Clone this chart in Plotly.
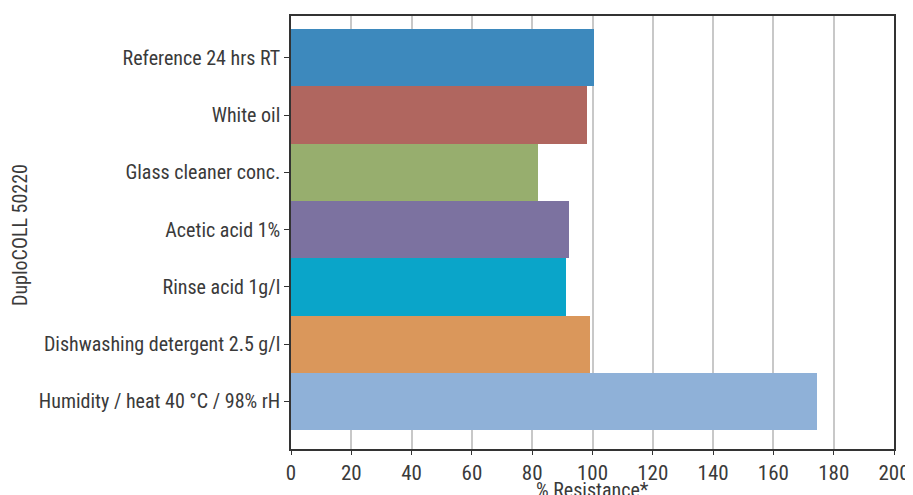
import plotly.graph_objects as go

categories = [
    "Reference 24 hrs RT",
    "White oil",
    "Glass cleaner conc.",
    "Acetic acid 1%",
    "Rinse acid 1g/l",
    "Dishwashing detergent 2.5 g/l",
    "Humidity / heat 40 °C / 98% rH",
]
values = [100.4, 98.1, 82.0, 92.2, 91.2, 99.2, 174.4]
colors = ["#3d89bd", "#b0665f", "#97ae6e", "#7c72a0", "#0aa5c9", "#da975b", "#8fb1d8"]
x_ticks = [0, 20, 40, 60, 80, 100, 120, 140, 160, 180, 200]

FONT = "Roboto Condensed, Liberation Sans Narrow, Arial Narrow, Roboto, sans-serif"
TXT = "#3a3a3a"

fig = go.Figure(go.Bar(
    x=values, y=categories, orientation="h",
    marker=dict(color=colors, line=dict(width=0)),
    width=1.0,
))

# page has an 8px body margin; compensate so the plot lands where the reference has it
W, H = 905, 487
L, R, T, B = 283, 19, 8, 46
pw = W - L - R
ph = H - T - B

fig.update_layout(
    width=W, height=H,
    margin=dict(l=L, r=R, t=T, b=B, autoexpand=False),
    paper_bgcolor="white", plot_bgcolor="white",
    showlegend=False, bargap=0,
    font=dict(family=FONT, color=TXT, size=20),
    xaxis=dict(
        range=[0, 200], tickvals=x_ticks, ticktext=[str(v) for v in x_ticks],
        showgrid=True, gridcolor="#c8c8c8", gridwidth=1.5,
        showline=True, linecolor="#333333", linewidth=1.5, mirror=True,
        ticks="outside", ticklen=4, tickcolor="#333333",
        tickfont=dict(size=21, family=FONT, color=TXT),
        zeroline=False, automargin=False,
    ),
    yaxis=dict(
        categoryorder="array", categoryarray=categories,
        range=[6.83, -0.73],
        showgrid=False,
        showline=True, linecolor="#333333", linewidth=1.5, mirror=True,
        ticks="outside", ticklen=5, tickcolor="#333333",
        tickfont=dict(size=20, family=FONT, color=TXT),
        zeroline=False, automargin=False,
    ),
    annotations=[
        dict(text="DuploCOLL 50220", xref="paper", yref="paper",
             x=(12 - L) / pw, y=(H - B - 227) / ph, textangle=-90,
             showarrow=False, xanchor="center", yanchor="middle",
             font=dict(size=20, family=FONT, color=TXT)),
        dict(text="% Resistance*", xref="paper", yref="paper",
             x=0.5, y=-(482 - (H - B)) / ph,
             showarrow=False, xanchor="center", yanchor="middle",
             font=dict(size=20, family=FONT, color=TXT)),
    ],
)

fig.write_html("out.html")
